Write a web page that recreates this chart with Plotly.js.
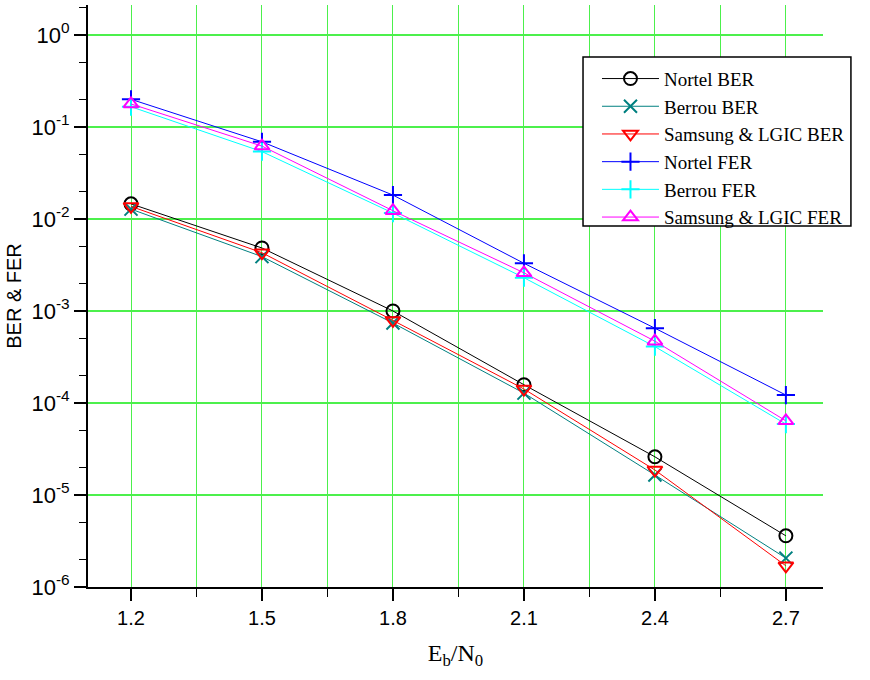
<!DOCTYPE html>
<html><head><meta charset="utf-8">
<script src="https://cdn.plot.ly/plotly-3.0.1.min.js"></script>
<style>body{margin:0;background:#fff}#plot{width:870px;height:680px}</style>
</head><body><div id="plot"></div>
<script>
const ebn0 = [1.2, 1.5, 1.8, 2.1, 2.4, 2.7];
const nortelBER = [0.0146, 0.00484, 0.00100, 1.58e-4, 2.6e-5, 3.6e-6];
const berrouBER = [0.0128, 0.0039, 7.4e-4, 1.28e-4, 1.65e-5, 2.06e-6];
const samsungBER = [0.0137, 0.0043, 7.9e-4, 1.42e-4, 1.87e-5, 1.7e-6];
const nortelFER = [0.200, 0.069, 0.0182, 0.0033, 6.5e-4, 1.22e-4];
const berrouFER = [0.166, 0.054, 0.0116, 0.0023, 4.1e-4, 5.9e-5];
const samsungFER = [0.178, 0.062, 0.0123, 0.0026, 4.7e-4, 6.4e-5];
const xTicks = [1.2, 1.5, 1.8, 2.1, 2.4, 2.7];
const yTickVals = [1e-6, 1e-5, 1e-4, 1e-3, 1e-2, 1e-1, 1];
const yTickText = ['10<sup>-6</sup>','10<sup>-5</sup>','10<sup>-4</sup>','10<sup>-3</sup>','10<sup>-2</sup>','10<sup>-1</sup>','10<sup>0</sup>'];

function tr(name, y, color, symbol){
  return {x: ebn0, y: y, name: name, type:'scatter', mode:'lines+markers',
    line:{color:color, width:1},
    marker:{symbol:symbol, size:13, color:color, line:{color:color, width:2}}};
}
const data = [
  tr('Nortel BER', nortelBER, '#000000', 'circle-open'),
  tr('Berrou BER', berrouBER, '#008080', 'x-thin-open'),
  tr('Samsung &amp; LGIC BER', samsungBER, '#ff0000', 'triangle-down-open'),
  tr('Nortel FER', nortelFER, '#0000ff', 'cross-thin-open'),
  tr('Berrou FER', berrouFER, '#00ffff', 'cross-thin-open'),
  tr('Samsung &amp; LGIC FER', samsungFER, '#ff00ff', 'triangle-up-open')
];
const grid = '#4cf04c';
const layout = {
  width:870, height:680,
  margin:{l:88, r:47, t:5, b:93},
  paper_bgcolor:'#fff', plot_bgcolor:'#fff',
  showlegend:true,
  shapes:[{type:'rect', xref:'paper', yref:'paper', x0:0.6735, x1:1.038, y0:0.6203, y1:0.9107,
    line:{color:'#000', width:1.5}, fillcolor:'#fff', layer:'above'}],
  legend:{x:0.6925, y:0.906, xanchor:'left', yanchor:'top', bgcolor:'rgba(0,0,0,0)',
    borderwidth:0, tracegroupgap:0, itemwidth:57,
    font:{family:'Liberation Serif, Times New Roman, serif', size:19, color:'#000'}},
  xaxis:{range:[1.1015, 2.785], tickvals:xTicks, ticktext:xTicks.map(v=>v.toFixed(1)),
    ticks:'outside', ticklen:12, tickwidth:1.5, tickcolor:'#000',
    showline:true, linecolor:'#000', linewidth:2, zeroline:false,
    showgrid:true, gridcolor:grid, gridwidth:1,
    minor:{tickvals:[1.35,1.65,1.95,2.25,2.55], ticks:'outside', ticklen:8, tickwidth:1.5, tickcolor:'#000', showgrid:true, gridcolor:grid, gridwidth:1},
    tickfont:{family:'Liberation Sans, Arial, sans-serif', size:20, color:'#000'},
    title:{text:'E<sub>b</sub>/N<sub>0</sub>', font:{family:'Liberation Serif, Times New Roman, serif', size:24, color:'#000'}, standoff:16}},
  yaxis:{type:'log', range:[-6, 0.326], tickvals:yTickVals, ticktext:yTickText,
    ticks:'outside', ticklen:12, tickwidth:1.5, tickcolor:'#000',
    showline:true, linecolor:'#000', linewidth:2, zeroline:false,
    showgrid:true, gridcolor:grid, gridwidth:1.5,
    minor:{ticks:'outside', ticklen:7, tickwidth:1.5, tickcolor:'#000', showgrid:false},
    tickfont:{family:'Liberation Sans, Arial, sans-serif', size:22, color:'#000'},
    title:{text:'BER &amp; FER', font:{family:'Liberation Sans, Arial, sans-serif', size:20, color:'#000'}, standoff:4}}
};
Plotly.newPlot('plot', data, layout, {displayModeBar:false, staticPlot:true});
</script></body></html>
